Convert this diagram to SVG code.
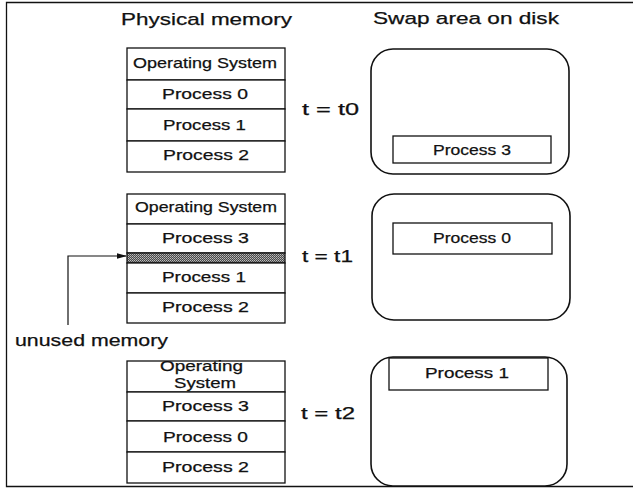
<svg xmlns="http://www.w3.org/2000/svg" width="633" height="490" viewBox="0 0 633 490">
  <style>
    text { font-family: "Liberation Sans", Arial, sans-serif; fill: #111; stroke: #111; stroke-width: 0.25; }
    .title { font-size: 17px; }
    .cell { font-size: 15px; text-anchor: start; }
    .tlabel { font-size: 17px; }
    .box { fill: #fff; stroke: #111; stroke-width: 1.3; }
    .disk { fill: #fff; stroke: #111; stroke-width: 1.6; }
    .wire { fill: none; stroke: #111; stroke-width: 1.2; }
  </style>
  <defs>
    <pattern id="hatch" width="2" height="2" patternUnits="userSpaceOnUse">
      <rect width="2" height="2" fill="#4a4a4a"/>
      <rect x="0" y="0" width="1" height="1" fill="#bdbdbd"/>
      <rect x="1" y="1" width="1" height="1" fill="#9a9a9a"/>
    </pattern>
    <marker id="arrow" markerWidth="10" markerHeight="8" refX="9" refY="4" orient="auto" markerUnits="userSpaceOnUse">
      <path d="M0,1.2 L10,4 L0,6.8 Z" fill="#111"/>
    </marker>
  </defs>

  <rect width="633" height="490" fill="#fff"/>

  <!-- outer frame (open on the right) -->
  <path d="M640,2.5 H6.5 V486.5 H640" fill="none" stroke="#111" stroke-width="1.3"/>

  <!-- column headings -->
  <text class="title" x="121" y="25" textLength="171" lengthAdjust="spacingAndGlyphs">Physical memory</text>
  <text class="title" x="373" y="24" textLength="186" lengthAdjust="spacingAndGlyphs">Swap area on disk</text>

  <!-- time labels -->
  <text class="tlabel" x="302" y="115" textLength="57" lengthAdjust="spacingAndGlyphs">t = t0</text>
  <text class="tlabel" x="302" y="262" textLength="51" lengthAdjust="spacingAndGlyphs">t = t1</text>
  <text class="tlabel" x="301" y="419" textLength="54" lengthAdjust="spacingAndGlyphs">t = t2</text>

  <!-- memory at t0 -->
  <g id="mem-t0">
    <rect class="box" x="127" y="48" width="158" height="32"/>
    <rect class="box" x="127" y="80" width="158" height="29"/>
    <rect class="box" x="127" y="109" width="158" height="32"/>
    <rect class="box" x="127" y="141" width="158" height="31"/>
    <text class="cell" x="133" y="68" textLength="144" lengthAdjust="spacingAndGlyphs">Operating System</text>
    <text class="cell" x="162" y="99" textLength="86" lengthAdjust="spacingAndGlyphs">Process 0</text>
    <text class="cell" x="163" y="130" textLength="83" lengthAdjust="spacingAndGlyphs">Process 1</text>
    <text class="cell" x="163" y="160" textLength="86" lengthAdjust="spacingAndGlyphs">Process 2</text>
  </g>

  <!-- swap area at t0 -->
  <g id="disk-t0">
    <rect class="disk" x="371" y="49" width="198" height="125" rx="22" ry="22"/>
    <rect class="box" x="393" y="136" width="158" height="27"/>
    <text class="cell" x="433" y="155" textLength="78" lengthAdjust="spacingAndGlyphs">Process 3</text>
  </g>

  <!-- memory at t1 -->
  <g id="mem-t1">
    <rect class="box" x="127" y="194" width="158" height="30"/>
    <rect class="box" x="127" y="224" width="158" height="29"/>
    <rect x="127" y="253" width="158" height="10" fill="url(#hatch)" stroke="#111" stroke-width="1.3"/>
    <rect class="box" x="127" y="263" width="158" height="30"/>
    <rect class="box" x="127" y="293" width="158" height="30"/>
    <text class="cell" x="135" y="212" textLength="142" lengthAdjust="spacingAndGlyphs">Operating System</text>
    <text class="cell" x="162" y="243" textLength="87" lengthAdjust="spacingAndGlyphs">Process 3</text>
    <text class="cell" x="162" y="282" textLength="84" lengthAdjust="spacingAndGlyphs">Process 1</text>
    <text class="cell" x="162" y="312" textLength="87" lengthAdjust="spacingAndGlyphs">Process 2</text>
  </g>

  <!-- swap area at t1 -->
  <g id="disk-t1">
    <rect class="disk" x="372" y="194" width="198" height="126" rx="22" ry="22"/>
    <rect class="box" x="393" y="223" width="159" height="31"/>
    <text class="cell" x="433" y="243" textLength="78" lengthAdjust="spacingAndGlyphs">Process 0</text>
  </g>

  <!-- label for the hole left in memory -->
  <g id="unused-label">
    <text class="title" x="15" y="346" textLength="153" lengthAdjust="spacingAndGlyphs">unused memory</text>
  </g>

  <!-- connectors -->
  <g id="connectors">
    <path class="wire" d="M68,325 V256 H126" marker-end="url(#arrow)"/>
  </g>

  <!-- memory at t2 -->
  <g id="mem-t2">
    <rect class="box" x="127" y="361" width="158" height="31"/>
    <rect class="box" x="127" y="392" width="158" height="29"/>
    <rect class="box" x="127" y="421" width="158" height="31"/>
    <rect class="box" x="127" y="452" width="158" height="31"/>
    <text class="cell" x="160" y="371" textLength="83" lengthAdjust="spacingAndGlyphs">Operating</text>
    <text class="cell" x="174" y="388" textLength="62" lengthAdjust="spacingAndGlyphs">System</text>
    <text class="cell" x="162" y="411" textLength="87" lengthAdjust="spacingAndGlyphs">Process 3</text>
    <text class="cell" x="163" y="442" textLength="85" lengthAdjust="spacingAndGlyphs">Process 0</text>
    <text class="cell" x="162" y="472" textLength="87" lengthAdjust="spacingAndGlyphs">Process 2</text>
  </g>

  <!-- swap area at t2 -->
  <g id="disk-t2">
    <rect class="disk" x="371" y="357" width="196" height="129" rx="22" ry="22"/>
    <rect class="box" x="389" y="358" width="159" height="32"/>
    <text class="cell" x="425" y="378" textLength="84" lengthAdjust="spacingAndGlyphs">Process 1</text>
  </g>
</svg>
